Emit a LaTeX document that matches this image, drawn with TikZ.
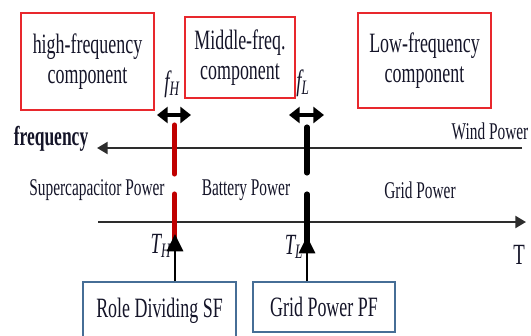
\documentclass[tikz,border=0pt]{standalone}
\usepackage{fontspec}
\setmainfont{Liberation Serif}[FakeStretch=0.64]
\usetikzlibrary{arrows.meta}
\definecolor{boxred}{RGB}{232,40,45}
\definecolor{linered}{RGB}{192,0,0}
\definecolor{boxblue}{RGB}{70,110,150}
\definecolor{axisgray}{RGB}{45,45,45}
\definecolor{txt}{RGB}{20,20,40}
\tikzset{
  compbox/.style={draw=boxred, line width=1.4pt, align=center, inner sep=0pt,
    text=txt, font=\fontsize{21}{22}\selectfont},
  ctrlbox/.style={draw=boxblue, line width=1.1pt, align=center, inner sep=0pt,
    text=txt, font=\fontsize{21}{22}\selectfont},
  lbl/.style={inner sep=0pt, text=txt, font=\fontsize{18}{19}\selectfont},
  symb/.style={inner sep=0pt, text=txt, font=\fontsize{22}{23}\selectfont},
  axis/.style={draw=axisgray, line width=1.6pt},
  dblarrow/.style={line width=2.6pt, {Triangle[length=8pt,width=12pt]}-{Triangle[length=8pt,width=12pt]}},
  uparrow/.style={line width=2.2pt, -{Triangle[length=13pt,width=12pt]}},
  vbar/.style={line width=3.8pt, line cap=round}
}
\begin{document}
\begin{tikzpicture}[x=0.75pt, y=-0.75pt]
\useasboundingbox (0,0) rectangle (531,335);

% component boxes
\node[compbox, minimum width=99.75pt, minimum height=72.75pt] (high) at (87.5,61.5) {high-frequency\\component};
\node[compbox, minimum width=82.5pt, minimum height=60.75pt] (mid) at (240,57.5) {Middle-freq.\\component};
\node[compbox, minimum width=99.75pt, minimum height=71.25pt] (low) at (424.5,60.5) {Low-frequency\\component};

% cut-off frequency labels and double arrows
\node[symb] (fH) at (172,84) {\itshape f\textsubscript{\itshape H}};
\node[symb] (fL) at (303,83) {\itshape f\textsubscript{\itshape L}};
\coordinate (fHa) at (157,115);
\coordinate (fHb) at (191,115);
\coordinate (fLa) at (289,115);
\coordinate (fLb) at (324,115);
\draw[dblarrow] (fHa) -- (fHb);
\draw[dblarrow] (fLa) -- (fLb);

% frequency axis
\coordinate (fstart) at (522,148);
\coordinate (fend) at (97,148);
\draw[axis, -{Triangle[length=8pt,width=9pt]}] (fstart) -- (fend);
\node[lbl, font=\fontsize{20.5}{21}\selectfont\bfseries] (freq) at (51,139) {frequency};
\node[lbl] (wind) at (490,131) {Wind Power};

% time axis
\coordinate (tstart) at (98,222);
\coordinate (tend) at (526,222);
\draw[axis, -{Triangle[length=8pt,width=9pt]}] (tstart) -- (tend);
\node[symb] (T) at (519,255) {T};

% power labels
\node[lbl] (sc) at (97,190) {Supercapacitor Power};
\node[lbl] (bat) at (246,190) {Battery Power};
\node[lbl] (grid) at (420,190) {Grid Power};

% vertical separators
\draw[vbar, linered] (174.5,125) -- (174.5,174);
\draw[vbar, linered] (174.5,194) -- (174.5,240);
\draw[vbar, black] (307,127) -- (307,173);
\draw[vbar, black] (307,194) -- (307,242);

\node[symb] (TH) at (161,246) {\itshape T\textsubscript{\itshape H}};
\node[symb] (TL) at (294,247) {\itshape T\textsubscript{\itshape L}};

% control boxes
\node[ctrlbox, minimum width=114.75pt, minimum height=43.5pt] (role) at (159.5,311) {Role Dividing SF};
\node[ctrlbox, minimum width=106.5pt, minimum height=37.5pt] (pf) at (324,307) {Grid Power PF};

\coordinate (tipH) at (175,234);
\coordinate (tipL) at (307,236);
\draw[uparrow] (role.north -| tipH) -- (tipH);
\draw[uparrow] (pf.north -| tipL) -- (tipL);
\end{tikzpicture}
\end{document}
